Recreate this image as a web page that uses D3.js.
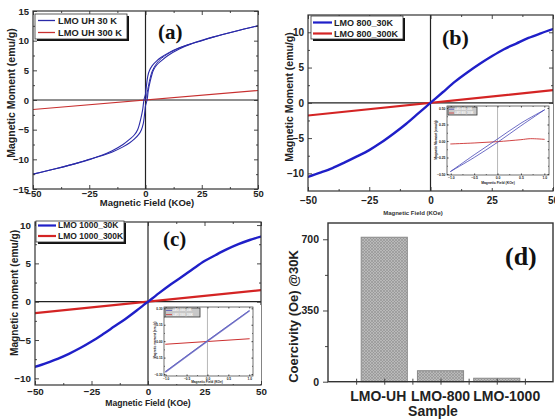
<!DOCTYPE html>
<html><head><meta charset="utf-8">
<script src="https://cdn.jsdelivr.net/npm/d3@7"></script>
<style>body{margin:0;background:#fff}svg{display:block}</style>
</head><body>
<svg id="fig" width="555" height="419"></svg>
<script>
// ---------- DATA ----------
// (a) LMO UH, 30 K hysteresis loop (field in kOe, moment in emu/g)
const fieldA_down  = [50,40,30,25,20,15,10,7,5,3,1.8,1,0.3,0,-0.7,-1.2,-2,-3.5,-5,-7,-10,-15,-20,-25,-30,-40,-50];
const momentA_down = [12.5,11.6,10.6,10.05,9.45,8.8,7.9,7.2,6.6,5.8,5.0,4.0,2.0,1.0,0,-1.5,-3.0,-5.0,-5.9,-6.6,-7.5,-8.6,-9.4,-10.0,-10.6,-11.6,-12.5];
const fieldA_up    = [-50,-40,-30,-25,-20,-15,-10,-7,-5,-3,-1.8,-1,-0.3,0,0.7,1.2,2,3.5,5,7,10,15,20,25,30,40,50];
const momentA_up   = [-12.5,-11.6,-10.6,-10.05,-9.45,-8.8,-7.9,-7.2,-6.6,-5.8,-5.0,-4.0,-2.0,-1.0,0,1.5,3.0,5.0,5.9,6.6,7.5,8.6,9.4,10.0,10.6,11.6,12.5];
const fieldA_virgin  = [0,0.5,1,2,3,5,7,10,15,20];
const momentA_virgin = [0,0.8,1.8,3.6,4.9,6.2,7.0,7.8,8.75,9.45];
const fieldA_300  = [-50,50];
const momentA_300 = [-1.6,1.6];

// (b) LMO 800
const fieldB_30  = [-50,-45,-40,-35,-30,-25,-20,-15,-10,-5,-2,0,2,5,10,15,20,25,30,35,40,45,50];
const momentB_30 = [-10.5,-9.9,-9.25,-8.45,-7.6,-6.7,-5.6,-4.35,-3.0,-1.5,-0.6,0,0.6,1.5,3.0,4.3,5.5,6.6,7.6,8.4,9.2,9.85,10.45];
const fieldB_300  = [-50,50];
const momentB_300 = [-1.8,1.8];
// (b) inset, low-field region
const fieldBi_down  = [1,0.5,0,-0.5,-1];
const momentBi_down = [0.47,0.27,0.03,-0.21,-0.46];
const fieldBi_up    = [-1,-0.5,0,0.5,1];
const momentBi_up   = [-0.46,-0.25,-0.02,0.23,0.47];
const fieldBi_300   = [-1,-0.5,0,0.5,0.7,1];
const momentBi_300  = [-0.045,-0.03,-0.01,0.02,0.035,0.025];

// (c) LMO 1000
const fieldC_30  = [-50,-45,-40,-35,-30,-25,-20,-15,-10,-5,-2,0,2,5,10,15,20,25,30,35,40,45,50];
const momentC_30 = [-8.5,-8.0,-7.45,-6.8,-6.05,-5.2,-4.25,-3.25,-2.25,-1.15,-0.45,0,0.45,1.15,2.25,3.25,4.3,5.3,6.1,6.85,7.5,8.05,8.5];
const fieldC_300  = [-50,50];
const momentC_300 = [-1.5,1.5];
// (c) inset
const fieldCi_30   = [-1,0,1];
const momentCi_30a = [-0.28,0,0.275];
const momentCi_30b = [-0.275,0.005,0.28];
const fieldCi_300  = [-1,1];
const momentCi_300 = [-0.028,0.022];

// tick labels
const xTicksMain = [-50,-25,0,25,50];
const yTicksA = [-15,-10,-5,0,5,10,15];
const yTicksBC = [-10,-5,0,5,10];
const xTicksInset = [-1,-0.5,0,0.5,1];
const yTicksInsetB = [-0.5,-0.25,0,0.25,0.5];
const yTicksInsetC = [-0.3,-0.15,0,0.15,0.3];

// (d) coercivity bar chart
const samples = ['LMO-UH','LMO-800','LMO-1000'];
const coercivity = [710,54,17];
const yTicksD = [0,350,700];

// ---------- DRAWING ----------
const svg = d3.select('#fig');
const defs = svg.append('defs');
const SANS = "'Liberation Sans', Arial, sans-serif";
const SERIF = "'Liberation Serif', 'Times New Roman', serif";
const BLUE = '#1f1fc8', RED = '#d42424';

function styleAxis(sel, fs, color) {
  sel.select('.domain').remove();
  sel.selectAll('line').attr('stroke', color || '#333').attr('stroke-width', 0.9);
  sel.selectAll('text').attr('font-family', SANS).attr('font-weight', 'bold')
     .attr('font-size', fs).attr('fill', '#222');
}

function xyPanel(cfg) {
  const g = svg.append('g');
  const x = d3.scaleLinear().domain(cfg.xDom).range([cfg.x0, cfg.x1]);
  const y = d3.scaleLinear().domain(cfg.yDom).range([cfg.y1, cfg.y0]);
  if (cfg.bg) {
    g.append('rect').attr('x', cfg.bg[0]).attr('y', cfg.bg[1]).attr('width', cfg.bg[2]).attr('height', cfg.bg[3]).attr('fill', '#fff');
  }
  const clipId = 'clip-' + cfg.id;
  defs.append('clipPath').attr('id', clipId).append('rect')
    .attr('x', cfg.x0).attr('y', cfg.y0).attr('width', cfg.x1 - cfg.x0).attr('height', cfg.y1 - cfg.y0);
  // zero lines
  g.append('line').attr('x1', x(0)).attr('x2', x(0)).attr('y1', cfg.y0).attr('y2', cfg.y1)
    .attr('stroke', cfg.zeroColor || '#222').attr('stroke-width', cfg.zeroW || 1.2);
  if (!cfg.noHZero) {
    g.append('line').attr('x1', cfg.x0).attr('x2', cfg.x1).attr('y1', y(0)).attr('y2', y(0))
      .attr('stroke', '#222').attr('stroke-width', cfg.zeroW || 1.2);
  }
  // series
  const line = d3.line().x(d => x(d[0])).y(d => y(d[1])).curve(d3.curveCatmullRom.alpha(0.5));
  const sg = g.append('g').attr('clip-path', `url(#${clipId})`);
  cfg.series.forEach(s => {
    sg.append('path').attr('d', line(d3.zip(s.x, s.y))).attr('fill', 'none')
      .attr('stroke', s.color).attr('stroke-width', s.w).attr('stroke-opacity', s.op || 1)
      .attr('stroke-linejoin', 'round').attr('stroke-linecap', 'round');
  });
  // ticks
  const tin = cfg.tick, fs = cfg.fs;
  const minorX = d3.range(cfg.xTicks.length - 1).map(i => (cfg.xTicks[i] + cfg.xTicks[i + 1]) / 2);
  const minorY = d3.range(cfg.yTicks.length - 1).map(i => (cfg.yTicks[i] + cfg.yTicks[i + 1]) / 2);
  const axB = g.append('g').attr('transform', `translate(0,${cfg.y1})`)
    .call(d3.axisBottom(x).tickValues(cfg.xTicks).tickSizeInner(-tin).tickSizeOuter(0).tickPadding(cfg.xPad).tickFormat(cfg.xFmt));
  styleAxis(axB, fs);
  const axL = g.append('g').attr('transform', `translate(${cfg.x0},0)`)
    .call(d3.axisLeft(y).tickValues(cfg.yTicks).tickSizeInner(-tin).tickSizeOuter(0).tickPadding(cfg.yPad).tickFormat(cfg.yFmt));
  styleAxis(axL, fs);
  const none = () => '';
  [[d3.axisTop, cfg.y0, cfg.xTicks, x, tin, 'y'], [d3.axisTop, cfg.y0, minorX, x, tin / 2, 'y'],
   [d3.axisBottom, cfg.y1, minorX, x, tin / 2, 'y'],
   [d3.axisRight, cfg.x1, cfg.yTicks, y, tin, 'x'], [d3.axisRight, cfg.x1, minorY, y, tin / 2, 'x'],
   [d3.axisLeft, cfg.x0, minorY, y, tin / 2, 'x']].forEach(([fn, pos, vals, sc, sz, dir]) => {
    const a = g.append('g').attr('transform', dir === 'y' ? `translate(0,${pos})` : `translate(${pos},0)`)
      .call(fn(sc).tickValues(vals).tickSizeInner(-sz).tickSizeOuter(0).tickFormat(none));
    styleAxis(a, fs);
  });
  // frame
  g.append('rect').attr('x', cfg.x0).attr('y', cfg.y0).attr('width', cfg.x1 - cfg.x0).attr('height', cfg.y1 - cfg.y0)
    .attr('fill', 'none').attr('stroke', '#333').attr('stroke-width', cfg.frameW || 1.2);
  // titles
  if (cfg.xTitle) {
    g.append('text').attr('x', cfg.xTitle.x).attr('y', cfg.xTitle.y).attr('text-anchor', 'middle')
      .attr('font-family', SANS).attr('font-weight', 'bold').attr('font-size', cfg.xTitle.fs).attr('fill', '#222')
      .text(cfg.xTitle.t);
  }
  if (cfg.yTitle) {
    g.append('text').attr('transform', `translate(${cfg.yTitle.x},${cfg.yTitle.y}) rotate(-90)`).attr('text-anchor', 'middle')
      .attr('font-family', SANS).attr('font-weight', 'bold').attr('font-size', cfg.yTitle.fs).attr('fill', '#222')
      .text(cfg.yTitle.t);
  }
  // legend
  if (cfg.legend) {
    const L = cfg.legend;
    if (L.shadow) g.append('rect').attr('x', L.x + 2).attr('y', L.y + 2).attr('width', L.w).attr('height', L.h).attr('fill', '#111');
    g.append('rect').attr('x', L.x).attr('y', L.y).attr('width', L.w).attr('height', L.h)
      .attr('fill', L.fill || '#fff').attr('stroke', '#333').attr('stroke-width', L.sw || 0.8);
    L.items.forEach((it, i) => {
      const yy = L.y + L.row0 + i * L.dy;
      g.append('line').attr('x1', L.x + L.l0).attr('x2', L.x + L.l1).attr('y1', yy).attr('y2', yy)
        .attr('stroke', it.color).attr('stroke-width', L.lw);
      g.append('text').attr('x', L.x + L.t0).attr('y', yy).attr('dy', '0.35em')
        .attr('font-family', SANS).attr('font-weight', 'bold').attr('font-size', L.fs).attr('fill', L.tcolor || '#222')
        .text(it.t);
    });
  }
  if (cfg.label) {
    g.append('text').attr('x', cfg.label.x).attr('y', cfg.label.y)
      .attr('font-family', SERIF).attr('font-weight', 'bold').attr('font-size', cfg.label.fs).attr('fill', '#111')
      .text(cfg.label.t);
  }
  return g;
}

const fmt0 = d3.format('d');
const MAG_MOMENT = 'Magnetic Moment (emu/g)';
const MAG_FIELD = 'Magnetic Field (KOe)';

// ---- (a) ----
xyPanel({
  id: 'a', x0: 33, x1: 258, y0: 11, y1: 189, xDom: [-50, 50], yDom: [-15, 15],
  xTicks: xTicksMain, yTicks: yTicksA, tick: 4, fs: 9.5, xPad: 1.5, yPad: 4, xFmt: fmt0, yFmt: fmt0,
  series: [
    { x: fieldA_300, y: momentA_300, color: '#c83030', w: 1.1 },
    { x: fieldA_down, y: momentA_down, color: '#2a2aa8', w: 1.1 },
    { x: fieldA_up, y: momentA_up, color: '#2a2aa8', w: 1.1 },
    { x: fieldA_virgin, y: momentA_virgin, color: '#2a2aa8', w: 1.0 }
  ],
  xTitle: { x: 147, y: 206, fs: 9.5, t: MAG_FIELD },
  yTitle: { x: 15, y: 93, fs: 10.5, t: MAG_MOMENT },
  legend: { x: 35, y: 14, w: 92, h: 25, shadow: true, row0: 6.5, dy: 12, l0: 3, l1: 20, t0: 23, lw: 1.3, fs: 9.3,
    items: [{ t: 'LMO UH 30 K', color: '#2a2aa8' }, { t: 'LMO UH 300 K', color: '#c83030' }] },
  label: { x: 158, y: 39, fs: 21, t: '(a)' }
});

// ---- (b) ----
xyPanel({
  id: 'b', x0: 308, x1: 553, y0: 15, y1: 191, xDom: [-50, 50], yDom: [-12.5, 12.45],
  xTicks: xTicksMain, yTicks: yTicksBC, tick: 4, fs: 10, xPad: 6, yPad: 4, xFmt: fmt0, yFmt: fmt0,
  series: [
    { x: fieldB_300, y: momentB_300, color: RED, w: 2.2 },
    { x: fieldB_30, y: momentB_30, color: BLUE, w: 2.4 }
  ],
  yTitle: { x: 293, y: 97, fs: 10.5, t: MAG_MOMENT },
  legend: { x: 311, y: 16, w: 92, h: 23, shadow: true, row0: 6.5, dy: 11, l0: 2, l1: 21, t0: 23, lw: 2.2, fs: 9,
    items: [{ t: 'LMO 800_30K', color: BLUE }, { t: 'LMO 800_300K', color: RED }] },
  label: { x: 442, y: 45, fs: 22, t: '(b)' }
});
// (b) x title (partly hidden by panel d)
svg.append('text').attr('x', 413).attr('y', 214.5).attr('text-anchor', 'middle')
  .attr('font-family', SANS).attr('font-weight', 'bold').attr('font-size', 6).attr('fill', '#333').text(MAG_FIELD);

// (b) inset
const fmt2 = d3.format('.2f'), fmt1 = d3.format('.1f');
xyPanel({
  id: 'bi', x0: 447, x1: 549, y0: 106, y1: 175, xDom: [-1.08, 1.1], yDom: [-0.515, 0.53],
  bg: [433, 104, 120, 84],
  xTicks: xTicksInset, yTicks: yTicksInsetB, tick: 1.5, fs: 3.4, xPad: 1.5, yPad: 1.5, xFmt: fmt1, yFmt: fmt2,
  zeroColor: '#888', zeroW: 0.6, noHZero: true, frameW: 0.7,
  series: [
    { x: fieldBi_300, y: momentBi_300, color: '#cc3030', w: 0.9 },
    { x: fieldBi_down, y: momentBi_down, color: '#4848b8', w: 0.8 },
    { x: fieldBi_up, y: momentBi_up, color: '#4848b8', w: 0.8 }
  ],
  xTitle: { x: 498, y: 184, fs: 3.4, t: 'Magnetic Field (KOe)' },
  yTitle: { x: 437, y: 140, fs: 3.2, t: 'Magnetic Moment (emu/g)' },
  legend: { x: 448, y: 107, w: 29, h: 8, row0: 2.2, dy: 3.8, l0: 1, l1: 6, t0: 7, lw: 0.8, fs: 2.6, fill: '#c8c8c8', tcolor: '#fff',
    items: [{ t: 'LMO 800_30K', color: '#4848b8' }, { t: 'LMO 800_300K', color: '#cc3030' }] }
});

// ---- (c) ----
xyPanel({
  id: 'c', x0: 35, x1: 261, y0: 222, y1: 385, xDom: [-50, 50], yDom: [-10.87, 10.4],
  xTicks: xTicksMain, yTicks: yTicksBC, tick: 4, fs: 9.8, xPad: 3.5, yPad: 4, xFmt: fmt0, yFmt: fmt0,
  series: [
    { x: fieldC_300, y: momentC_300, color: RED, w: 2.2 },
    { x: fieldC_30, y: momentC_30, color: BLUE, w: 2.4 }
  ],
  xTitle: { x: 148, y: 406, fs: 8.6, t: MAG_FIELD },
  yTitle: { x: 18, y: 293, fs: 10.2, t: 'Magnetic moment (emu/g)' },
  legend: { x: 36, y: 221, w: 88, h: 21, shadow: true, row0: 4.5, dy: 10.5, l0: 2, l1: 20, t0: 22, lw: 2.2, fs: 8.5,
    items: [{ t: 'LMO 1000_30K', color: BLUE }, { t: 'LMO 1000_300K', color: RED }] },
  label: { x: 163, y: 246, fs: 21, t: '(c)' }
});
// (c) inset
xyPanel({
  id: 'ci', x0: 164, x1: 253, y0: 307, y1: 376, xDom: [-1.04, 1.09], yDom: [-0.318, 0.312],
  bg: [152, 305, 109, 79],
  xTicks: xTicksInset, yTicks: yTicksInsetC, tick: 1.5, fs: 3.2, xPad: 1.5, yPad: 1.5, xFmt: fmt1, yFmt: fmt2,
  zeroColor: '#888', zeroW: 0.6, noHZero: true, frameW: 0.7,
  series: [
    { x: fieldCi_300, y: momentCi_300, color: '#cc3030', w: 1.0 },
    { x: fieldCi_30, y: momentCi_30a, color: '#7a7ac8', w: 1.4 },
    { x: fieldCi_30, y: momentCi_30b, color: '#5c5cc0', w: 0.8 }
  ],
  xTitle: { x: 207, y: 383, fs: 3.2, t: 'Magnetic Field (KOe)' },
  yTitle: { x: 156, y: 340, fs: 3.0, t: 'Magnetic moment (emu/g)' },
  legend: { x: 165, y: 308, w: 35, h: 9, row0: 2.4, dy: 4.2, l0: 1, l1: 7, t0: 8, lw: 0.8, fs: 2.6, fill: '#c8c8c8', tcolor: '#fff',
    items: [{ t: 'LMO 1000_30K', color: '#4848b8' }, { t: 'LMO 1000_300K', color: '#cc3030' }] }
});

// ---- (d) ----
(function () {
  const g = svg.append('g');
  const x0 = 328, x1 = 553, y0 = 223, y1 = 381.7;
  const x = d3.scaleLinear().domain([0, samples.length + 1]).range([x0, x1]);
  const y = d3.scaleLinear().domain([0, 780]).range([y1, y0]);
  const pat = defs.append('pattern').attr('id', 'hatch').attr('patternUnits', 'userSpaceOnUse')
    .attr('width', 3).attr('height', 3);
  pat.append('rect').attr('width', 3).attr('height', 3).attr('fill', '#b9b9b9');
  pat.append('path').attr('d', 'M0,3 L3,0 M0,0 L3,3').attr('stroke', '#8e8e8e').attr('stroke-width', 0.6);
  const bw = x(0.82) - x(0);
  g.selectAll('rect.bar').data(coercivity).enter().append('rect').attr('class', 'bar')
    .attr('x', (d, i) => x(i + 1) - bw / 2).attr('width', bw)
    .attr('y', d => y(d)).attr('height', d => y(0) - y(d))
    .attr('fill', 'url(#hatch)').attr('stroke', '#8a8a8a').attr('stroke-width', 1);
  // axes
  const axL = g.append('g').attr('transform', `translate(${x0},0)`)
    .call(d3.axisLeft(y).tickValues(yTicksD).tickSizeInner(5).tickSizeOuter(0).tickPadding(4).tickFormat(d3.format('d')));
  styleAxis(axL, 10.5);
  const axLm = g.append('g').attr('transform', `translate(${x0},0)`)
    .call(d3.axisLeft(y).tickValues([175, 525]).tickSizeInner(3).tickSizeOuter(0).tickFormat(() => ''));
  styleAxis(axLm, 10);
  const xt = d3.range(1, 2 * (samples.length + 1)).map(k => k / 2);
  [3, -3].forEach(s => {
    const a = g.append('g').attr('transform', `translate(0,${y1})`)
      .call(d3.axisBottom(x).tickValues(xt).tickSizeInner(s).tickSizeOuter(0).tickFormat(() => ''));
    styleAxis(a, 10);
  });
  g.append('rect').attr('x', x0).attr('y', y0).attr('width', x1 - x0).attr('height', y1 - y0)
    .attr('fill', 'none').attr('stroke', '#333').attr('stroke-width', 1.4);
  const dx = [-6, 0, 10];
  g.selectAll('text.cat').data(samples).enter().append('text').attr('class', 'cat')
    .attr('x', (d, i) => x(i + 1) + dx[i]).attr('y', 400.5).attr('text-anchor', 'middle')
    .attr('font-family', SANS).attr('font-weight', 'bold').attr('font-size', 14).attr('fill', '#222').text(d => d);
  g.append('text').attr('x', 433).attr('y', 416).attr('text-anchor', 'middle')
    .attr('font-family', SANS).attr('font-weight', 'bold').attr('font-size', 14).attr('fill', '#222').text('Sample');
  g.append('text').attr('transform', 'translate(298,316.5) rotate(-90)').attr('text-anchor', 'middle')
    .attr('font-family', SANS).attr('font-weight', 'bold').attr('font-size', 13).attr('fill', '#222').text('Coercivity (Oe) @30K');
  g.append('text').attr('x', 505).attr('y', 265)
    .attr('font-family', SERIF).attr('font-weight', 'bold').attr('font-size', 26).attr('fill', '#111').text('(d)');
})();
</script>
</body></html>
